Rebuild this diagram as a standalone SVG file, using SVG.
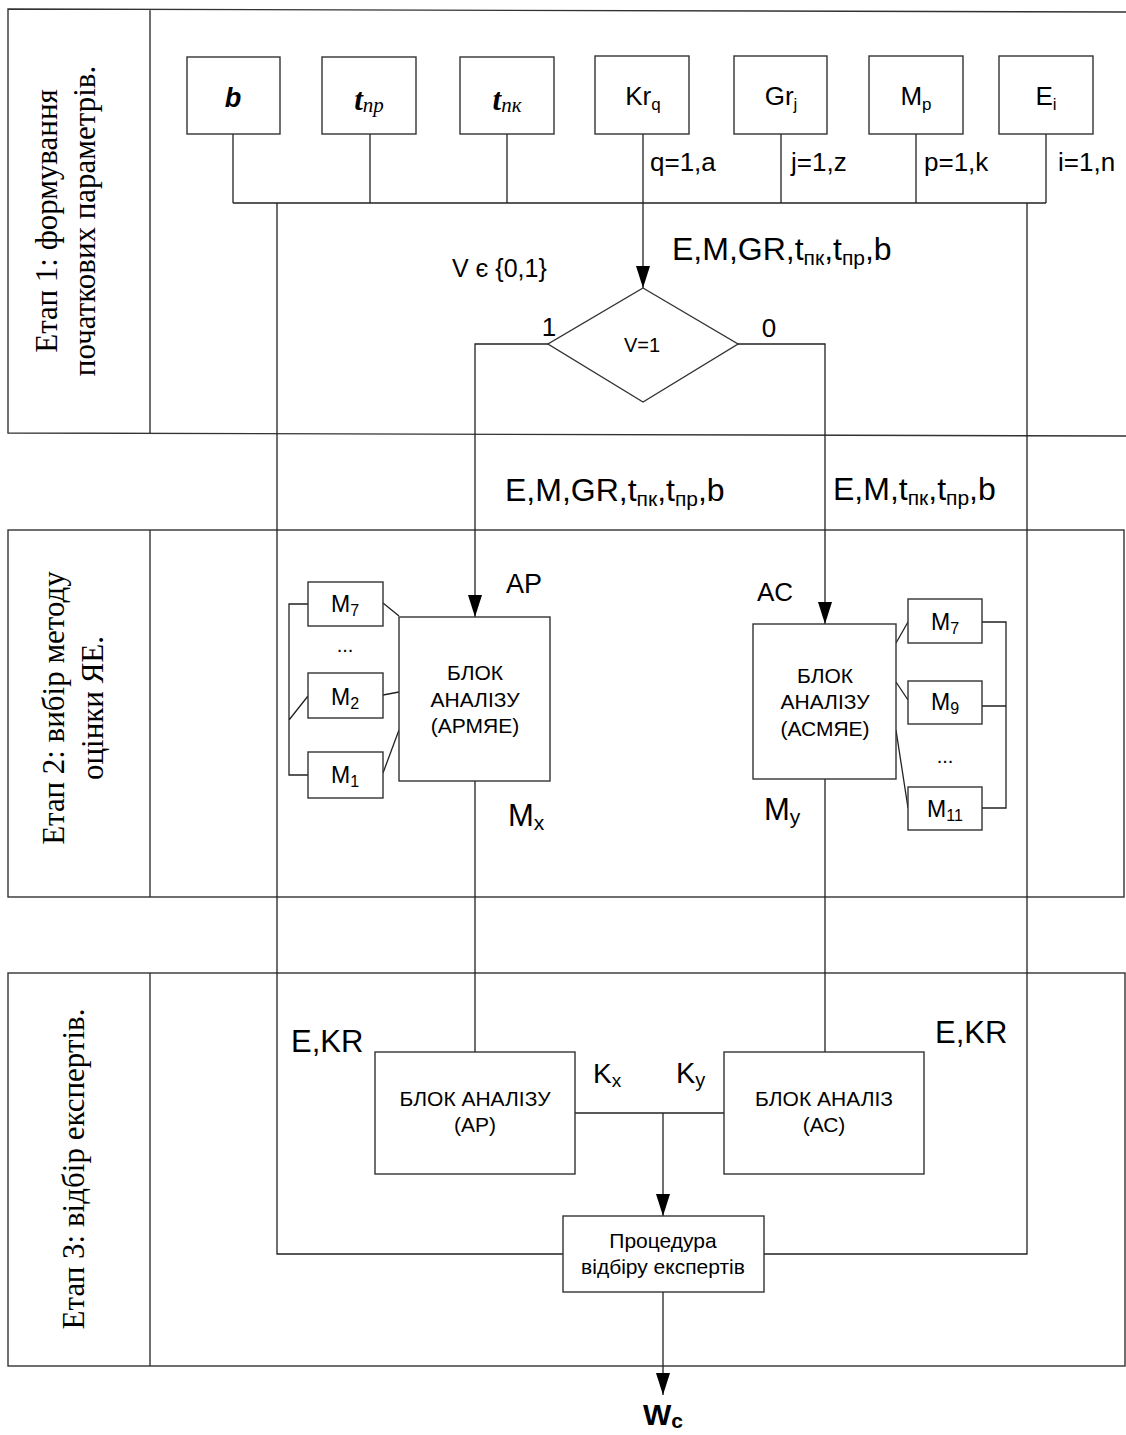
<svg xmlns="http://www.w3.org/2000/svg" width="1126" height="1435" viewBox="0 0 1126 1435">
<style>
.frame{fill:none;stroke:#333;stroke-width:1.4}
.box{fill:#fff;stroke:#333;stroke-width:1.4}
.ln{fill:none;stroke:#222;stroke-width:1.3}
.t{font-family:"Liberation Sans",Arial,sans-serif;fill:#000}
.stage{font-family:"Liberation Serif","Times New Roman",serif;font-size:31px;fill:#000}
.c{text-anchor:middle}
</style>
<defs>
<marker id="arr" viewBox="0 0 22 14" refX="22" refY="7" markerWidth="22" markerHeight="14" orient="auto" markerUnits="userSpaceOnUse">
<path d="M0,0 L22,7 L0,14 Z" fill="#000"/>
</marker>
</defs>
<rect width="1126" height="1435" fill="#fff"/>
<g id="stages">
<g id="stage1">
<path class="frame" d="M1126,12 L8,9 L8,433 L1126,436 M150,9 V433"/>
<text class="stage c" transform="translate(57,221) rotate(-90)">Етап 1: формування</text>
<text class="stage c" transform="translate(95,221) rotate(-90)">початкових параметрів.</text>
</g>
<g id="stage2">
<rect class="frame" x="8" y="530" width="1116" height="367"/>
<path class="frame" d="M150,530 V897"/>
<text class="stage c" transform="translate(64,708) rotate(-90)">Етап 2: вибір методу</text>
<text class="stage c" transform="translate(103,708) rotate(-90)">оцінки ЯЕ.</text>
</g>
<g id="stage3">
<rect class="frame" x="8" y="973" width="1117" height="393"/>
<path class="frame" d="M150,973 V1366"/>
<text class="stage c" transform="translate(84,1169) rotate(-90)">Етап 3: відбір експертів.</text>
</g>
</g>
<g id="connectors">
<path class="ln" d="M233,134 V203 M370,134 V203 M507,134 V203 M643,134 V203 M781,134 V203 M916,134 V203 M1046,134 V203 M233,203 H1046"/>
<path class="ln" d="M277,203 V1254 H563"/>
<path class="ln" d="M1027,203 V1254 H764"/>
<path class="ln" d="M643,203 V288" marker-end="url(#arr)"/>
<path class="ln" d="M548,344 H475 V617" marker-end="url(#arr)"/>
<path class="ln" d="M738,344 H825 V624" marker-end="url(#arr)"/>
<path class="ln" d="M475,781 V1052 M825,779 V1052"/>
<path class="ln" d="M575,1113 H724"/>
<path class="ln" d="M663,1113 V1216" marker-end="url(#arr)"/>
<path class="ln" d="M663,1292 V1395" marker-end="url(#arr)"/>
<path class="ln" d="M308,604 H289 V775 H308 M289,720 L308,696 M383,603 L399,616 M383,695 L399,692 M383,773 L399,730"/>
<path class="ln" d="M982,622 H1006 V808 H982 M982,706 H1006 M896,643 L908,622 M896,682 L908,700 M896,730 L908,808"/>
</g>
<g id="nodes">
<g id="n-b"><rect class="box" x="187" y="57" width="93" height="77"/><text class="t c" x="233" y="107" font-size="27" font-weight="bold" font-style="italic">b</text></g>
<g id="n-tpr"><rect class="box" x="322" y="57" width="94" height="77"/><text x="369" y="110" text-anchor="middle" font-family="'Liberation Serif',serif" font-style="italic"><tspan font-size="31" font-weight="bold">t</tspan><tspan font-size="21" dy="2">пр</tspan></text></g>
<g id="n-tpk"><rect class="box" x="460" y="57" width="94" height="77"/><text x="507" y="110" text-anchor="middle" font-family="'Liberation Serif',serif" font-style="italic"><tspan font-size="31" font-weight="bold">t</tspan><tspan font-size="21" dy="2">пк</tspan></text></g>
<g id="n-kr"><rect class="box" x="595" y="56" width="94" height="78"/><text class="t c" x="643" y="105" font-size="26">Kr<tspan font-size="17" dy="5">q</tspan></text></g>
<g id="n-gr"><rect class="box" x="734" y="56" width="93" height="78"/><text class="t c" x="781" y="105" font-size="26">Gr<tspan font-size="17" dy="5">j</tspan></text></g>
<g id="n-mp"><rect class="box" x="869" y="56" width="94" height="78"/><text class="t c" x="916" y="105" font-size="26">M<tspan font-size="17" dy="5">p</tspan></text></g>
<g id="n-ei"><rect class="box" x="999" y="56" width="94" height="78"/><text class="t c" x="1046" y="105" font-size="26">E<tspan font-size="17" dy="5">i</tspan></text></g>
<g id="n-diamond"><polygon class="box" points="643,288 738,344 643,402 548,344"/><text class="t c" x="642" y="352" font-size="20">V=1</text></g>
<g id="n-armye"><rect class="box" x="399" y="617" width="151" height="164"/><text class="t c" font-size="21"><tspan x="475" y="680">БЛОК</tspan><tspan x="475" y="707">АНАЛІЗУ</tspan><tspan x="475" y="733">(АРМЯЕ)</tspan></text></g>
<g id="n-asmye"><rect class="box" x="753" y="624" width="143" height="155"/><text class="t c" font-size="21"><tspan x="825" y="683">БЛОК</tspan><tspan x="825" y="709">АНАЛІЗУ</tspan><tspan x="825" y="736">(АСМЯЕ)</tspan></text></g>
<g id="n-lm7"><rect class="box" x="308" y="582" width="75" height="44"/><text class="t c" x="345" y="612" font-size="23">M<tspan font-size="16" dy="4">7</tspan></text></g>
<g id="n-lm2"><rect class="box" x="308" y="673" width="75" height="45"/><text class="t c" x="345" y="705" font-size="23">M<tspan font-size="16" dy="4">2</tspan></text></g>
<g id="n-lm1"><rect class="box" x="308" y="752" width="75" height="46"/><text class="t c" x="345" y="783" font-size="23">M<tspan font-size="16" dy="4">1</tspan></text></g>
<g id="n-rm7"><rect class="box" x="908" y="599" width="74" height="44"/><text class="t c" x="945" y="630" font-size="23">M<tspan font-size="16" dy="4">7</tspan></text></g>
<g id="n-rm9"><rect class="box" x="908" y="681" width="74" height="43"/><text class="t c" x="945" y="710" font-size="23">M<tspan font-size="16" dy="4">9</tspan></text></g>
<g id="n-rm11"><rect class="box" x="908" y="787" width="74" height="43"/><text class="t c" x="945" y="817" font-size="23">M<tspan font-size="16" dy="4">11</tspan></text></g>
<g id="n-ap"><rect class="box" x="375" y="1052" width="200" height="122"/><text class="t c" font-size="21"><tspan x="475" y="1106">БЛОК АНАЛІЗУ</tspan><tspan x="475" y="1132">(АР)</tspan></text></g>
<g id="n-ac"><rect class="box" x="724" y="1052" width="200" height="122"/><text class="t c" font-size="21"><tspan x="824" y="1106">БЛОК АНАЛІЗ</tspan><tspan x="824" y="1132">(АС)</tspan></text></g>
<g id="n-proc"><rect class="box" x="563" y="1216" width="201" height="76"/><text class="t c" font-size="21"><tspan x="663" y="1248">Процедура</tspan><tspan x="663" y="1274">відбіру експертів</tspan></text></g>
</g>
<g id="labels">
<text class="t" x="650" y="171" font-size="26">q=1,a</text>
<text class="t" x="791" y="171" font-size="26">j=1,z</text>
<text class="t" x="924" y="171" font-size="26">p=1,k</text>
<text class="t" x="1058" y="171" font-size="26">i=1,n</text>
<text class="t" x="672" y="260" font-size="32">E,M,GR,t<tspan font-size="21" dy="5">пк</tspan><tspan dy="-5">,t</tspan><tspan font-size="21" dy="5">пр</tspan><tspan dy="-5">,b</tspan></text>
<text class="t" x="452" y="277" font-size="25">V є {0,1}</text>
<text class="t c" x="549" y="336" font-size="26">1</text>
<text class="t c" x="769" y="337" font-size="26">0</text>
<text class="t" x="505" y="501" font-size="32">E,M,GR,t<tspan font-size="21" dy="5">пк</tspan><tspan dy="-5">,t</tspan><tspan font-size="21" dy="5">пр</tspan><tspan dy="-5">,b</tspan></text>
<text class="t" x="833" y="500" font-size="32">E,M,t<tspan font-size="21" dy="5">пк</tspan><tspan dy="-5">,t</tspan><tspan font-size="21" dy="5">пр</tspan><tspan dy="-5">,b</tspan></text>
<text class="t" x="506" y="593" font-size="27">AP</text>
<text class="t" x="757" y="601" font-size="26">AC</text>
<text class="t c" x="345" y="652" font-size="20">...</text>
<text class="t c" x="945" y="763" font-size="20">...</text>
<text class="t" x="508" y="826" font-size="31">M<tspan font-size="21" dy="4">x</tspan></text>
<text class="t" x="764" y="820" font-size="31">M<tspan font-size="21" dy="4">y</tspan></text>
<text class="t" x="291" y="1052" font-size="31">E,KR</text>
<text class="t" x="935" y="1043" font-size="31">E,KR</text>
<text class="t" x="593" y="1083" font-size="28">K<tspan font-size="19" dy="4">x</tspan></text>
<text class="t" x="676" y="1083" font-size="29">K<tspan font-size="20" dy="4">y</tspan></text>
<text class="t c" x="663" y="1425" font-size="30" font-weight="bold">W<tspan font-size="21" dy="3">c</tspan></text>
</g>
</svg>
